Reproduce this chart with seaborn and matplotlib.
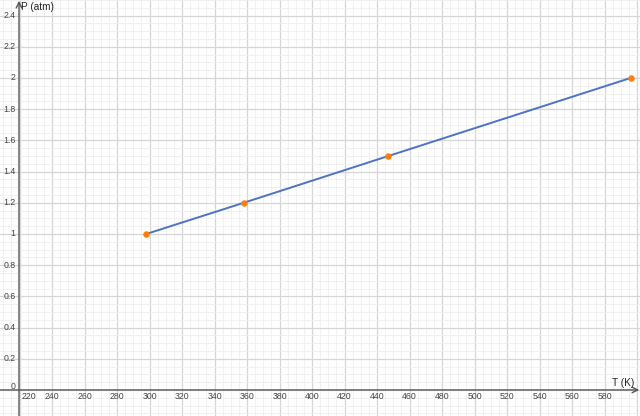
import numpy as np
import matplotlib
matplotlib.use("Agg")
import matplotlib.pyplot as plt
import seaborn as sns
import pandas as pd

# Isochoric process: temperature (K) vs pressure (atm)
temps = [298, 358, 447, 596]
pressures = [1.0, 1.2, 1.5, 2.0]

x_ticks = list(range(220, 600, 20))
y_ticks = [0, 0.2, 0.4, 0.6, 0.8, 1, 1.2, 1.4, 1.6, 1.8, 2, 2.2, 2.4]
y_tick_labels = ["0", "0.2", "0.4", "0.6", "0.8", "1", "1.2", "1.4", "1.6", "1.8", "2", "2.2", "2.4"]

x_label = "T (K)"
y_label = "P (atm)"

df = pd.DataFrame({"T": temps, "P": pressures})

sns.set_style("white")
plt.rcParams["font.family"] = ["Liberation Sans", "DejaVu Sans"]

fig = plt.figure(figsize=(6.4, 4.16), dpi=100)
ax = fig.add_axes([0, 0, 1, 1])

xmin, xmax = 208, 601.8
ymin, ymax = -0.167, 2.5

sns.lineplot(data=df, x="T", y="P", ax=ax, color="#4d72c6", linewidth=1.4)
sns.scatterplot(data=df, x="T", y="P", ax=ax, color="#ff7f0e", s=22,
                edgecolor="#ff7f0e", linewidth=0, zorder=5)
ax.set_xlabel("")
ax.set_ylabel("")

# grid like a graphing calculator
ax.set_xticks(np.arange(200, 620, 20))
ax.set_yticks(np.arange(0, 2.6, 0.2))
ax.set_xticks(np.arange(200, 605, 5), minor=True)
ax.set_yticks(np.arange(-0.2, 2.55, 0.05), minor=True)
ax.grid(which="major", color="#d6d6d6", linewidth=0.9)
ax.grid(which="minor", color="#efefef", linewidth=0.6)
ax.set_axisbelow(True)
ax.tick_params(which="both", length=0, labelbottom=False, labelleft=False)
for s in ax.spines.values():
    s.set_visible(False)

# axes lines with arrows
y_axis_x = 219.7
ax.annotate("", xy=(y_axis_x, ymax - 0.005), xytext=(y_axis_x, ymin),
            arrowprops=dict(arrowstyle="->", color="#555555", lw=1, shrinkA=0, shrinkB=0))
ax.annotate("", xy=(xmax - 0.5, 0), xytext=(xmin, 0),
            arrowprops=dict(arrowstyle="->", color="#555555", lw=1, shrinkA=0, shrinkB=0))

# tick labels
for t in x_ticks:
    xpos = t if t != 220 else 226
    ax.text(xpos, -0.045, str(t), ha="center", va="center", fontsize=6.3, color="#444444")
for v, lab in zip(y_ticks, y_tick_labels):
    ypos = v if v != 0 else 0.025
    ax.text(217.5, ypos, lab, ha="right", va="center", fontsize=6.3, color="#444444")

ax.text(y_axis_x + 1.5, 2.485, y_label, ha="left", va="top", fontsize=7.2, color="#222222")
ax.text(598.5, 0.012, x_label, ha="right", va="bottom", fontsize=7.2, color="#222222")

ax.set_xlim(xmin, xmax)
ax.set_ylim(ymin, ymax)

fig.savefig("out.png", dpi=100)
